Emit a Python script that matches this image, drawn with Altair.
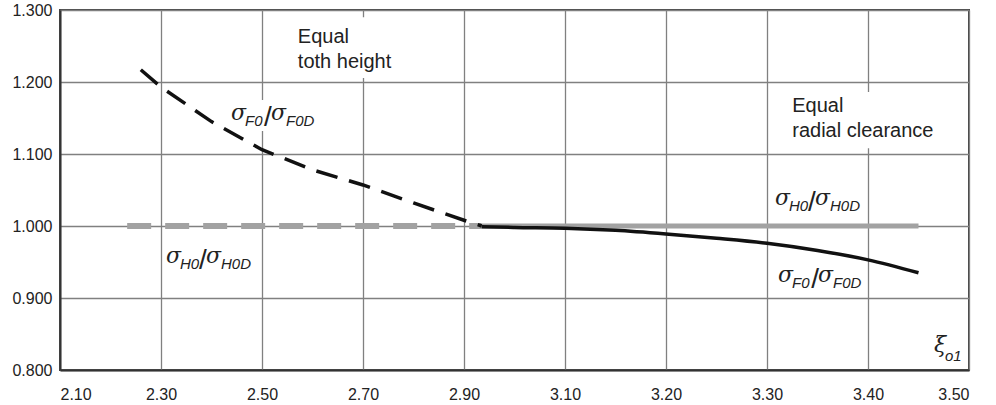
import altair as alt
import pandas as pd

# ---- data ----
x_ticks = [2.10, 2.30, 2.50, 2.70, 2.90, 3.10, 3.20, 3.30, 3.40, 3.50]
y_ticks = [0.800, 0.900, 1.000, 1.100, 1.200, 1.300]

# sigma_F0 / sigma_F0D, equal tooth height (dashed black)
f_toth_x = [2.26, 2.30, 2.40, 2.50, 2.60, 2.70, 2.80, 2.90, 2.935]
f_toth_y = [1.217, 1.193, 1.145, 1.106, 1.078, 1.057, 1.032, 1.008, 1.000]
# sigma_F0 / sigma_F0D, equal radial clearance (solid black)
f_rad_x = [2.935, 3.00, 3.10, 3.15, 3.20, 3.25, 3.30, 3.35, 3.40, 3.45]
f_rad_y = [0.999, 0.998, 0.997, 0.994, 0.989, 0.983, 0.976, 0.966, 0.953, 0.935]
# sigma_H0 / sigma_H0D (gray)
h_toth_x = [2.233, 2.935]
h_toth_y = [1.000, 1.000]
h_rad_x = [2.935, 3.45]
h_rad_y = [1.000, 1.000]

# annotation texts
note_text = ["Equal\ntoth height", "Equal\nradial clearance"]
note_x = [2.571, 3.325]
note_y = [1.254, 1.158]

box_x1 = [2.56, 3.319, 2.4327]
box_x2 = [2.7634, 3.4733, 2.601]
box_y1 = [1.290, 1.186, 1.175]
box_y2 = [1.2056, 1.108, 1.132]

lab_x = [2.4406, 2.3119, 3.3089, 3.3119]
lab_y = [1.1472, 0.9486, 1.0292, 0.9222]
lab_num = ["F0", "H0", "H0", "F0"]
lab_den = ["F0D", "H0D", "H0D", "F0D"]

xi_x = [3.4653]
xi_y = [0.825]

W, H = 909, 360
xs = alt.Scale(domain=[2.1, 3.1, 3.5], range=[0, 505, W], zero=False, nice=False)
ys = alt.Scale(domain=[0.8, 1.3], zero=False, nice=False)
xaxis = alt.Axis(values=x_ticks, format=".2f", title=None, labelPadding=16)
yaxis = alt.Axis(values=y_ticks, format=".3f", title=None, labelPadding=8)

def X(f="x"):
    return alt.X(f"{f}:Q", scale=xs, axis=xaxis)

def Y(f="y"):
    return alt.Y(f"{f}:Q", scale=ys, axis=yaxis)

def line_df(xv, yv):
    return pd.DataFrame({"x": xv, "y": yv})

GRAY = "#a2a2a2"

h_dash = alt.Chart(line_df(h_toth_x, h_toth_y)).mark_line(
    color=GRAY, strokeWidth=6, strokeDash=[24, 14], strokeCap="butt"
).encode(x=X(), y=Y())
h_solid = alt.Chart(line_df(h_rad_x, h_rad_y)).mark_line(
    color=GRAY, strokeWidth=5
).encode(x=X(), y=Y())
f_dash = alt.Chart(line_df(f_toth_x, f_toth_y)).mark_line(
    color="#111", strokeWidth=3.5, strokeDash=[22, 12], strokeCap="butt"
).encode(x=X(), y=Y())
f_solid = alt.Chart(line_df(f_rad_x, f_rad_y)).mark_line(
    color="#111", strokeWidth=3.5, interpolate="monotone"
).encode(x=X(), y=Y())

boxes = alt.Chart(pd.DataFrame({"x": box_x1, "x2": box_x2, "y": box_y1, "y2": box_y2})).mark_rect(
    color="white"
).encode(x=X(), x2="x2:Q", y=Y(), y2="y2:Q")

notes = alt.Chart(pd.DataFrame({"x": note_x, "y": note_y, "t": note_text})).mark_text(
    align="left", baseline="alphabetic", lineBreak="\n", lineHeight=25,
    fontSize=20, font="Liberation Sans", color="#222"
).encode(x=X(), y=Y(), text="t:N")

lab_df = pd.DataFrame({"x": lab_x, "y": lab_y, "num": lab_num, "den": lab_den})

def piece(text_field, dx, dy, size, font, style="italic", align="left", const=None):
    kw = dict(align=align, baseline="alphabetic", dx=dx, dy=dy, fontSize=size,
              font=font, fontStyle=style, color="#222")
    ch = alt.Chart(lab_df).mark_text(**kw).encode(x=X(), y=Y())
    if const is not None:
        return ch.encode(text=alt.value(const))
    return ch.encode(text=f"{text_field}:N")

sig1 = piece(None, -1, 0, 22, "DejaVu Serif", const="σ")
sub1 = piece("num", 13, 6, 15, "Liberation Sans")
slash = piece(None, 36, 6, 28, "Liberation Sans", style="normal", align="center", const="/")
sig2 = piece(None, 39, 0, 22, "DejaVu Serif", const="σ")
sub2 = piece("den", 54, 6, 15, "Liberation Sans")

xi_df = pd.DataFrame({"x": xi_x, "y": xi_y})
xi = alt.Chart(xi_df).mark_text(
    align="left", baseline="alphabetic", fontSize=22, font="DejaVu Serif",
    fontStyle="italic", color="#222"
).encode(x=X(), y=Y(), text=alt.value("ξ"))
xi_sub = alt.Chart(xi_df).mark_text(
    align="left", baseline="alphabetic", dx=11, dy=9, fontSize=15,
    font="Liberation Sans", fontStyle="italic", color="#222"
).encode(x=X(), y=Y(), text=alt.value("o1"))

chart = alt.layer(
    boxes, h_dash, h_solid, f_dash, f_solid, notes,
    sig1, sub1, slash, sig2, sub2, xi, xi_sub
).properties(
    width=W, height=H, autosize="none",
    padding={"left": 60, "top": 10, "right": 27, "bottom": 35},
    background="white"
).configure_axis(
    grid=True, gridColor="#808080", gridWidth=1.3, domainColor="#333",
    domainWidth=2, ticks=False, labelFontSize=16, labelFont="Liberation Sans",
    labelColor="#222"
).configure_view(stroke="#444", strokeWidth=2)

chart.save("out.html", embed_options={"renderer": "svg", "actions": False})
